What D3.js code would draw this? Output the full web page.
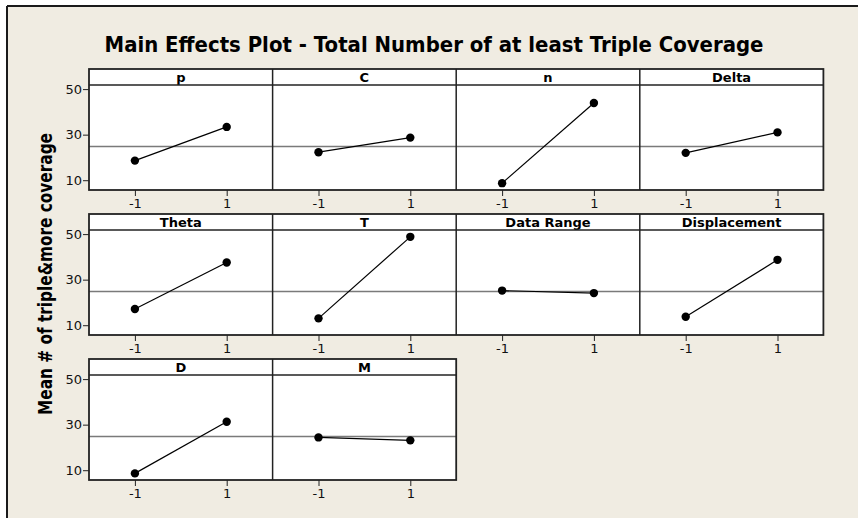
<!DOCTYPE html>
<html>
<head>
<meta charset="utf-8">
<script src="https://cdn.jsdelivr.net/npm/d3@7"></script>
<style>
  html, body { margin: 0; padding: 0; background: #ffffff; }
  svg { display: block; }
  text { font-family: "DejaVu Sans", Verdana, sans-serif; }
</style>
</head>
<body>
<svg id="chart" width="858" height="518"></svg>
<script>
// Factor names (panel titles) and the mean response at each factor level
const factors = ["p", "C", "n", "Delta", "Theta", "T", "Data Range", "Displacement", "D", "M"];
const lowMeans  = [18.6, 22.3, 8.7, 22.0, 17.1, 13.0, 25.2, 13.7, 8.6, 24.4];
const highMeans = [33.4, 28.7, 43.9, 31.0, 37.5, 48.8, 24.1, 38.7, 31.3, 23.1];
const levels = ["-1", "1"];
const yTicks = [10, 30, 50];
const grandMean = 24.8;

const titleText = "Main Effects Plot - Total Number of at least Triple Coverage";
const yLabelText = "Mean # of triple&more coverage";

const svg = d3.select("#chart");
const W = 858, H = 518;

// page background with the frame on its top and left edges
svg.append("rect").attr("x", 0).attr("y", 0).attr("width", W).attr("height", H).attr("fill", "#ffffff");
svg.append("rect").attr("x", 7).attr("y", 6).attr("width", W - 7).attr("height", H - 6).attr("fill", "#f0ece2");
svg.append("line").attr("x1", 7).attr("x2", W).attr("y1", 6).attr("y2", 6).attr("stroke", "#1a1a1a").attr("stroke-width", 2);
svg.append("line").attr("x1", 7).attr("x2", 7).attr("y1", 6).attr("y2", H).attr("stroke", "#1a1a1a").attr("stroke-width", 2);

// grid geometry
const cols = 4;
const left = 89, panelW = 183.6;
const rowTops = [69, 214, 359];
const stripH = 16, plotH = 105;

const x = d3.scalePoint().domain(levels).range([0, panelW]).padding(0.5);

// title
svg.append("text")
  .attr("x", 434).attr("y", 52)
  .attr("text-anchor", "middle")
  .attr("font-size", 22).attr("font-weight", "bold")
  .attr("textLength", 659).attr("lengthAdjust", "spacingAndGlyphs")
  .attr("fill", "#000")
  .text(titleText);

// y-axis label
svg.append("text")
  .attr("transform", "translate(52,274) rotate(-90)")
  .attr("text-anchor", "middle")
  .attr("font-size", 20).attr("font-weight", "bold")
  .attr("textLength", 282).attr("lengthAdjust", "spacingAndGlyphs")
  .attr("fill", "#000")
  .text(yLabelText);

const nRows = Math.ceil(factors.length / cols);
for (let r = 0; r < nRows; r++) {
  const top = rowTops[r];
  const plotTop = top + stripH;
  const plotBottom = plotTop + plotH;
  const idx = d3.range(r * cols, Math.min(factors.length, (r + 1) * cols));
  const rowW = idx.length * panelW;

  const y = d3.scaleLinear().domain([5.7, 51.8]).range([plotBottom, plotTop]);

  const row = svg.append("g");

  // white panel backgrounds (strip + plot)
  row.append("rect")
    .attr("x", left).attr("y", top).attr("width", rowW).attr("height", stripH + plotH)
    .attr("fill", "#ffffff");

  // y axis on the first panel of each row
  const yAxis = d3.axisLeft(y).tickValues(yTicks).tickSize(6).tickPadding(1);
  const gy = row.append("g").attr("transform", `translate(${left},0)`).call(yAxis);
  gy.select(".domain").remove();
  gy.selectAll(".tick line").attr("stroke", "#222").attr("stroke-width", 1);
  gy.selectAll(".tick text").attr("font-size", 13).attr("fill", "#111")
    .attr("font-family", "DejaVu Sans, Verdana, sans-serif");

  idx.forEach((fi, j) => {
    const px = left + j * panelW;
    const g = row.append("g").attr("transform", `translate(${px},0)`);

    // reference line at the overall mean
    g.append("line")
      .attr("x1", 0).attr("x2", panelW)
      .attr("y1", y(grandMean)).attr("y2", y(grandMean))
      .attr("stroke", "#7a7a7a").attr("stroke-width", 1.6);

    const pts = [
      { lev: levels[0], v: lowMeans[fi] },
      { lev: levels[1], v: highMeans[fi] }
    ];
    g.append("path")
      .datum(pts)
      .attr("fill", "none").attr("stroke", "#000").attr("stroke-width", 1.2)
      .attr("d", d3.line().x(d => x(d.lev)).y(d => y(d.v)));
    g.selectAll("circle").data(pts).join("circle")
      .attr("cx", d => x(d.lev)).attr("cy", d => y(d.v)).attr("r", 4.2)
      .attr("fill", "#000");

    // x axis
    const xAxis = d3.axisBottom(x).tickSize(6).tickPadding(3);
    const gx = g.append("g").attr("transform", `translate(0,${plotBottom})`).call(xAxis);
    gx.select(".domain").remove();
    gx.selectAll(".tick line").attr("stroke", "#222").attr("stroke-width", 1);
    gx.selectAll(".tick text").attr("font-size", 13).attr("fill", "#111")
      .attr("font-family", "DejaVu Sans, Verdana, sans-serif");

    // strip label
    g.append("text")
      .attr("x", panelW / 2).attr("y", top + 12.5)
      .attr("text-anchor", "middle")
      .attr("font-size", 13).attr("font-weight", "bold").attr("fill", "#000")
      .text(factors[fi]);

    // panel divider
    if (j > 0) {
      g.append("line").attr("x1", 0).attr("x2", 0).attr("y1", top).attr("y2", plotBottom)
        .attr("stroke", "#222").attr("stroke-width", 1.5);
    }
  });

  // strip separator and outer frame of the row
  row.append("line")
    .attr("x1", left).attr("x2", left + rowW)
    .attr("y1", plotTop).attr("y2", plotTop)
    .attr("stroke", "#222").attr("stroke-width", 1.5);
  row.append("rect")
    .attr("x", left).attr("y", top).attr("width", rowW).attr("height", stripH + plotH)
    .attr("fill", "none").attr("stroke", "#222").attr("stroke-width", 1.8);
}
</script>
</body>
</html>
